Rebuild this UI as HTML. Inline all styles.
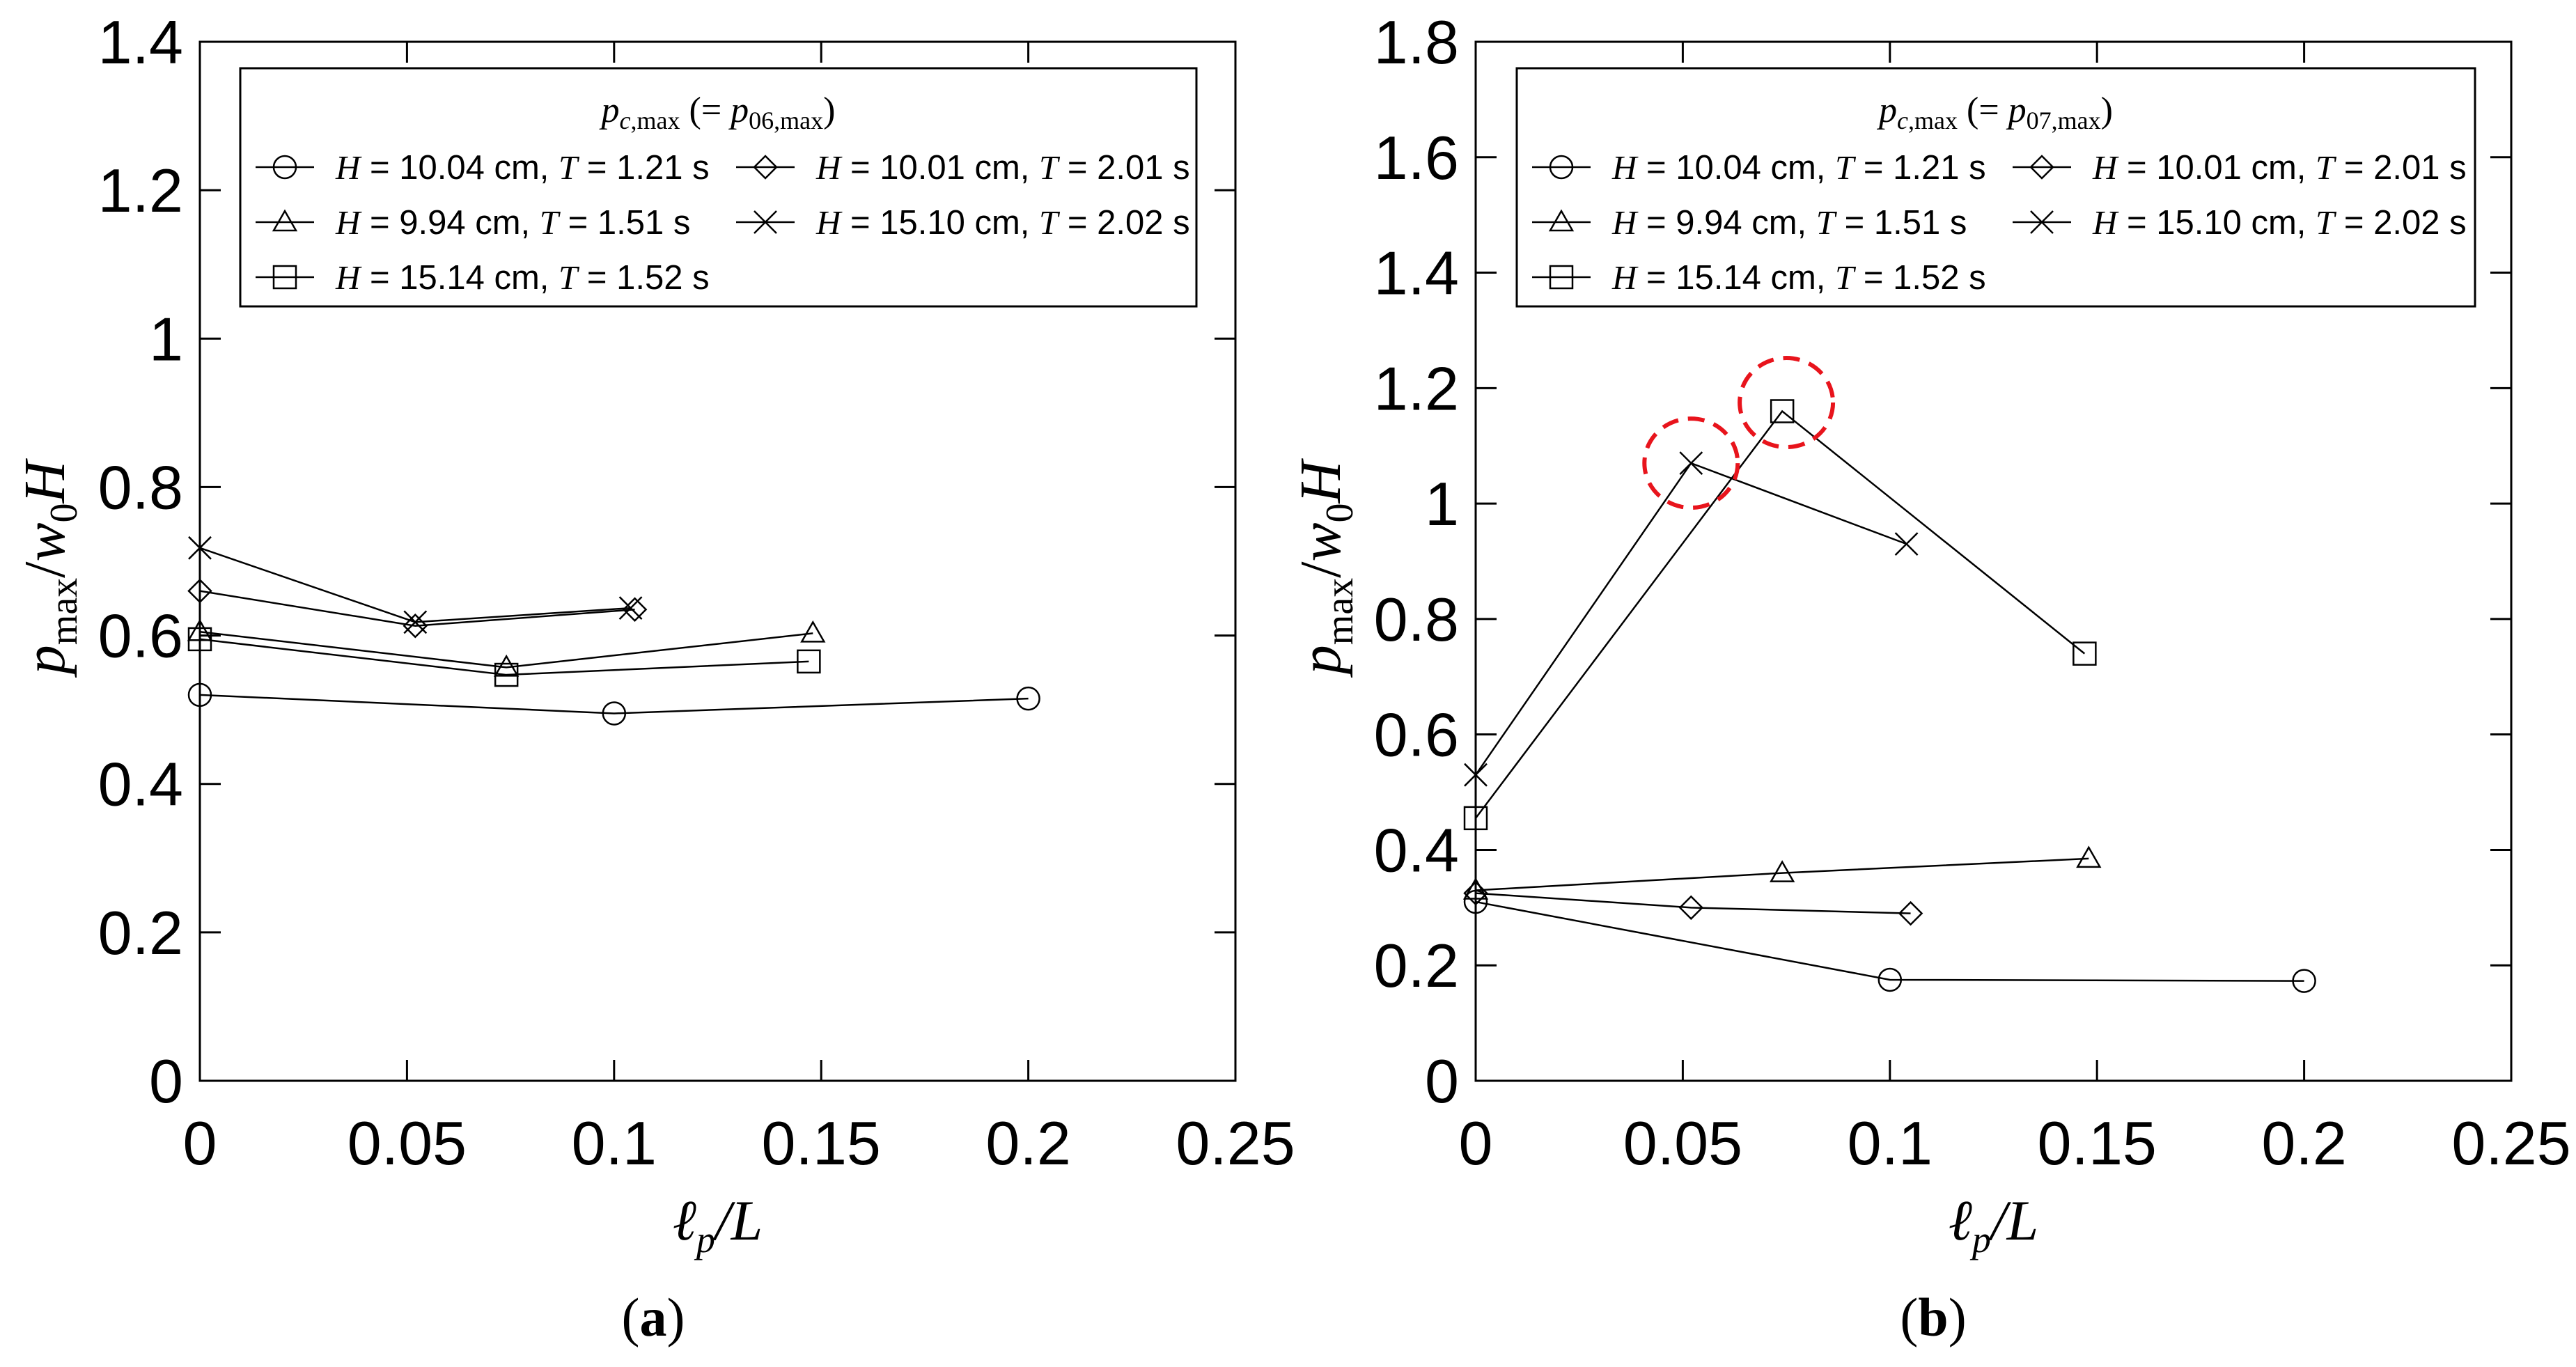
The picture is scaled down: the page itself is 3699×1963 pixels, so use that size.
<!DOCTYPE html>
<html><head><meta charset="utf-8"><style>
html,body{margin:0;padding:0;background:#fff}
svg{display:block}
text{font-family:"Liberation Sans",sans-serif;fill:#000}
.serif{font-family:"Liberation Serif",serif}
</style></head><body>
<svg id="svg" width="3699" height="1963" viewBox="0 0 3699 1963" xmlns="http://www.w3.org/2000/svg"></svg>
<script>
const xTicks=[0,0.05,0.1,0.15,0.2,0.25];
const xTickLabels=["0","0.05","0.1","0.15","0.2","0.25"];
const yTicksA=[0,0.2,0.4,0.6,0.8,1,1.2,1.4];
const yTickLabelsA=["0","0.2","0.4","0.6","0.8","1","1.2","1.4"];
const yTicksB=[0,0.2,0.4,0.6,0.8,1,1.2,1.4,1.6,1.8];
const yTickLabelsB=["0","0.2","0.4","0.6","0.8","1","1.2","1.4","1.6","1.8"];
const seriesNames=["circle","triangle","square","diamond","cross"];
const legendLabels=["H = 10.04 cm, T = 1.21 s","H = 9.94 cm, T = 1.51 s","H = 15.14 cm, T = 1.52 s","H = 10.01 cm, T = 2.01 s","H = 15.10 cm, T = 2.02 s"];
const aCircleX=[0,0.1,0.2], aCircleY=[0.52,0.495,0.515];
const aTriX=[0,0.074,0.148], aTriY=[0.605,0.557,0.603];
const aSqX=[0,0.074,0.147], aSqY=[0.595,0.547,0.565];
const aDiaX=[0,0.052,0.105], aDiaY=[0.66,0.613,0.635];
const aCrossX=[0,0.052,0.104], aCrossY=[0.718,0.618,0.637];
const bCircleX=[0,0.1,0.2], bCircleY=[0.31,0.175,0.173];
const bTriX=[0,0.074,0.148], bTriY=[0.33,0.36,0.385];
const bSqX=[0,0.074,0.147], bSqY=[0.455,1.16,0.74];
const bDiaX=[0,0.052,0.105], bDiaY=[0.325,0.3,0.29];
const bCrossX=[0,0.052,0.104], bCrossY=[0.53,1.07,0.93];
const highlightX=[0.052,0.075], highlightY=[1.07,1.175];

const NS="http://www.w3.org/2000/svg";
const svg=document.getElementById('svg');
function el(tag,attrs,parent){const e=document.createElementNS(NS,tag);for(const k in attrs)e.setAttribute(k,attrs[k]);(parent||svg).appendChild(e);return e;}

function marker(g,type,cx,cy){
  const r=16;let m;
  if(type==="circle")m=el('circle',{cx:cx,cy:cy,r:r,fill:'none',stroke:'#000','stroke-width':2.5},g);
  else if(type==="triangle")m=el('polygon',{points:`${cx},${cy-r} ${cx-r},${cy+r*0.75} ${cx+r},${cy+r*0.75}`,fill:'none',stroke:'#000','stroke-width':2.5},g);
  else if(type==="square")m=el('rect',{x:cx-r,y:cy-r,width:2*r,height:2*r,fill:'none',stroke:'#000','stroke-width':2.5},g);
  else if(type==="diamond")m=el('polygon',{points:`${cx},${cy-r} ${cx+r},${cy} ${cx},${cy+r} ${cx-r},${cy}`,fill:'none',stroke:'#000','stroke-width':2.5},g);
  else m=el('path',{d:`M${cx-r} ${cy-r}L${cx+r} ${cy+r}M${cx-r} ${cy+r}L${cx+r} ${cy-r}`,stroke:'#000','stroke-width':2.5,fill:'none'},g);
  
  
}

function panel(id,x0,x1,y0,y1,ymax,yTicks,yLabels,series,legX,legW,sub,capX,cap){
  const g=el('g',{});
  
  
  const sx=v=>x0+(v/0.25)*(x1-x0);
  const sy=v=>y1-(v/ymax)*(y1-y0);
  const frame=el('rect',{x:x0,y:y0,width:x1-x0,height:y1-y0,fill:'none',stroke:'#000','stroke-width':3},g);
  
  
  xTicks.forEach((t,i)=>{
    const X=sx(t);
    el('line',{x1:X,y1:y1,x2:X,y2:y1-30,stroke:'#000','stroke-width':3},g);
    el('line',{x1:X,y1:y0,x2:X,y2:y0+30,stroke:'#000','stroke-width':3},g);
    const tx=el('text',{x:X,y:1672,'font-size':88,'text-anchor':'middle'},g);
    tx.textContent=xTickLabels[i];
    
    
  });
  yTicks.forEach((t,i)=>{
    const Y=sy(t);
    el('line',{x1:x0,y1:Y,x2:x0+30,y2:Y,stroke:'#000','stroke-width':3},g);
    el('line',{x1:x1,y1:Y,x2:x1-30,y2:Y,stroke:'#000','stroke-width':3},g);
    const tx=el('text',{x:x0-24,y:Y+31,'font-size':88,'text-anchor':'end'},g);
    tx.textContent=yLabels[i];
    
    
  });
  series.forEach(s=>{
    const sg=el('g',{},g);
    
    
    const pts=s.x.map((v,i)=>sx(v)+','+sy(s.y[i])).join(' ');
    el('polyline',{points:pts,fill:'none',stroke:'#000','stroke-width':2.5},sg);
    s.x.forEach((v,i)=>marker(sg,s.type,sx(v),sy(s.y[i])));
  });
  const lg=el('g',{},g);
  
  
  el('rect',{x:legX,y:98,width:legW,height:342,fill:'#fff',stroke:'#000','stroke-width':3},lg);
  const tt=el('text',{x:legX+legW/2,y:175,'font-size':52,'text-anchor':'middle',class:'serif'},lg);
  tt.innerHTML=`<tspan font-style="italic">p</tspan><tspan font-size="36" dy="10"><tspan font-style="italic">c</tspan>,max</tspan><tspan dy="-10"> (= </tspan><tspan font-style="italic">p</tspan><tspan font-size="36" dy="10">0${sub},max</tspan><tspan dy="-10">)</tspan>`;
  
  
  const pos=[[0,0],[0,1],[0,2],[1,0],[1,1]];
  seriesNames.forEach((n,i)=>{
    const cx=legX+(pos[i][0]?712:22), ry=240+pos[i][1]*79;
    const eg=el('g',{},lg);
    
    
    el('line',{x1:cx,y1:ry,x2:cx+84,y2:ry,stroke:'#000','stroke-width':2.5},eg);
    marker(eg,n,cx+42,ry);
    const p=legendLabels[i].split(', ');
    const t=el('text',{x:cx+115,y:ry+17,'font-size':49},eg);
    t.innerHTML=`<tspan font-style="italic" font-family="Liberation Serif">H</tspan>${p[0].slice(1)}, <tspan font-style="italic" font-family="Liberation Serif">T</tspan>${p[1].slice(1)}`;
  });
  const xt=el('text',{x:(x0+x1)/2,y:1780,'font-size':82,'text-anchor':'middle',class:'serif','font-style':'italic'},g);
  xt.innerHTML=`ℓ<tspan font-size="54" dy="18">p</tspan><tspan dy="-18">/L</tspan>`;
  
  
  const yt=el('text',{x:0,y:0,'font-size':84,'text-anchor':'middle',class:'serif',transform:`translate(${x0-195},815) rotate(-90)`},g);
  yt.innerHTML=`<tspan font-style="italic">p</tspan><tspan font-size="56" dy="18">max</tspan><tspan dy="-18">/</tspan><tspan font-style="italic">w</tspan><tspan font-size="56" dy="18">0</tspan><tspan dy="-18" font-style="italic">H</tspan>`;
  
  
  const c=el('text',{x:capX,y:1918,'font-size':78,'text-anchor':'middle',class:'serif'},g);
  c.innerHTML=`(<tspan font-weight="bold">${cap}</tspan>)`;
  
  
  return {g,sx,sy};
}

panel('a',287,1774,60,1552,1.4,yTicksA,yTickLabelsA,[
 {type:'circle',x:aCircleX,y:aCircleY},{type:'triangle',x:aTriX,y:aTriY},{type:'square',x:aSqX,y:aSqY},
 {type:'diamond',x:aDiaX,y:aDiaY},{type:'cross',x:aCrossX,y:aCrossY}],345,1373,'6',938,'a');
const pb=panel('b',2119,3606,60,1552,1.8,yTicksB,yTickLabelsB,[
 {type:'circle',x:bCircleX,y:bCircleY},{type:'triangle',x:bTriX,y:bTriY},{type:'square',x:bSqX,y:bSqY},
 {type:'diamond',x:bDiaX,y:bDiaY},{type:'cross',x:bCrossX,y:bCrossY}],2178,1376,'7',2776,'b');
highlightX.forEach((v,i)=>{
  const e=el('ellipse',{cx:pb.sx(v),cy:pb.sy(highlightY[i]),rx:67,ry:64,fill:'none',stroke:'#e8141c','stroke-width':6,'stroke-dasharray':'24 14'},pb.g);
  
  
});
</script>
</body></html>
